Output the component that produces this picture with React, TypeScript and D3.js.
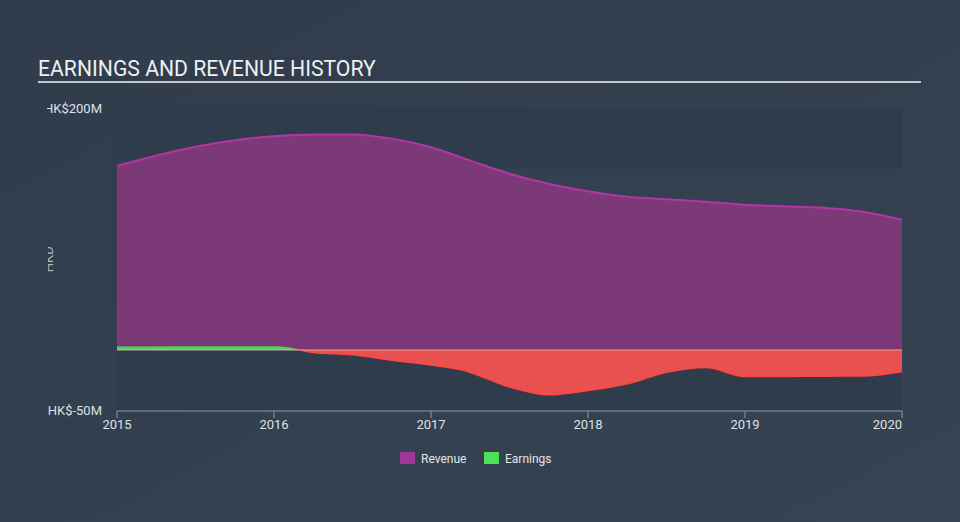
import React from "react";
import * as d3 from "d3";

const revenueDates = [2015.0, 2015.25, 2015.5, 2015.75, 2016.0, 2016.25, 2016.5, 2016.75, 2017.0, 2017.25, 2017.5, 2017.75, 2018.0, 2018.25, 2018.5, 2018.75, 2019.0, 2019.25, 2019.5, 2019.75, 2020.0];
const revenueValues = [152.3, 160.6, 168, 173.4, 176.6, 178, 178.2, 174.7, 167.6, 156.5, 145.7, 137.4, 131.2, 126.7, 124.6, 122.5, 120, 118.8, 117.5, 114.2, 107.6];

const earningsDates = [2015.0, 2015.25, 2015.5, 2015.75, 2016.0, 2016.1, 2016.17, 2016.25, 2016.5, 2016.75, 2017.0, 2017.2, 2017.5, 2017.75, 2018.0, 2018.25, 2018.5, 2018.75, 2019.0, 2019.25, 2019.5, 2019.75, 2020.0];
const earningsValues = [2.8, 2.9, 3.0, 3.0, 3.0, 2.0, 0, -2.0, -4.0, -8.5, -12.5, -16.5, -30.5, -37, -33.5, -28, -18.5, -14.5, -22, -21.8, -21.6, -21.5, -18];

const yearTicks = [2015, 2016, 2017, 2018, 2019, 2020];
const yTickValues = [200, -50];
const yTickLabels = ["HK$200M", "HK$-50M"];

const W = 960;
const H = 522;
const FONT = "Roboto, 'Noto Sans', sans-serif";

export default function App() {
  const x = d3.scaleLinear().domain([2015, 2020]).range([117, 902]);
  const y = d3.scaleLinear().domain([-50, 200]).range([410.5, 108]);

  const rev = revenueDates.map((d, i) => ({ d, v: revenueValues[i] }));
  const earn = earningsDates.map((d, i) => ({ d, v: earningsValues[i] }));

  const revArea = d3.area<{ d: number; v: number }>()
    .x((p) => x(p.d)).y0(y(0)).y1((p) => y(p.v)).curve(d3.curveMonotoneX);
  const revLine = d3.line<{ d: number; v: number }>()
    .x((p) => x(p.d)).y((p) => y(p.v)).curve(d3.curveMonotoneX);
  const earnArea = d3.area<{ d: number; v: number }>()
    .x((p) => x(p.d)).y0(y(0)).y1((p) => y(p.v)).curve(d3.curveMonotoneX);
  const earnLine = d3.line<{ d: number; v: number }>()
    .x((p) => x(p.d)).y((p) => y(p.v)).curve(d3.curveMonotoneX);

  const x0 = x(2015), x1 = x(2020);
  const yTop = y(200), yBot = y(-50), yZero = y(0);

  return (
    <div style={{ position: "absolute", left: 0, top: 0 }}>
      <svg width={W} height={H} style={{ display: "block" }}>
        <defs>
          <linearGradient id="bg" x1="0" y1="0" x2="1" y2="1">
            <stop offset="0" stopColor="#303c4b" />
            <stop offset="1" stopColor="#364353" />
          </linearGradient>
          <clipPath id="above">
            <rect x={x0} y={0} width={x1 - x0} height={yZero} />
          </clipPath>
          <clipPath id="below">
            <rect x={x0} y={yZero} width={x1 - x0} height={H - yZero} />
          </clipPath>
          <clipPath id="labelClip">
            <rect x={47} y={0} width={200} height={H} />
          </clipPath>
          <clipPath id="unitClip">
            <rect x={48} y={0} width={200} height={H} />
          </clipPath>
        </defs>
        <rect x={0} y={0} width={W} height={H} fill="url(#bg)" />

        {/* plot bands */}
        <rect x={x0} y={yTop} width={x1 - x0} height={yBot - yTop} fill="#2f3c4b" />
        <rect x={x0} y={y(150)} width={x1 - x0} height={yZero - y(150)} fill="#334050" />

        {/* title */}
        <text x={38} y={76} fill="#eef0f2" fontFamily={FONT} fontSize={21.2}>EARNINGS AND REVENUE HISTORY</text>
        <line x1={38} x2={921} y1={82} y2={82} stroke="#c5c9ce" strokeWidth={2} />

        {/* revenue */}
        <path d={revArea(rev) || ""} fill="#7b3a77" />
        <path d={revLine(rev) || ""} fill="none" stroke="#b535a6" strokeWidth={2} />

        {/* earnings */}
        <g clipPath="url(#above)">
          <path d={earnArea(earn) || ""} fill="#4fd35b" />
        </g>
        <g clipPath="url(#below)">
          <path d={earnArea(earn) || ""} fill="#e95050" />
          <path d={earnLine(earn) || ""} fill="none" stroke="#ff4545" strokeWidth={1.5} />
        </g>
        <line x1={x0} x2={x1} y1={yZero} y2={yZero} stroke="#f2c8b0" strokeOpacity={0.75} strokeWidth={1} />

        {/* y labels */}
        <g clipPath="url(#labelClip)">
          {yTickValues.map((v, i) => (
            <text key={v} x={102} y={y(v) + 4.5} textAnchor="end" fill="#dfe2e6" fontFamily={FONT} fontSize={13}>{yTickLabels[i]}</text>
          ))}
        </g>
        <g clipPath="url(#unitClip)">
          <text transform={`translate(53,${(yTop + yBot) / 2}) rotate(-90)`} textAnchor="middle" fill="#c9cdd2" fillOpacity={0.85} fontFamily={FONT} fontSize={13}>HKD</text>
        </g>

        {/* x axis */}
        <line x1={x0} x2={x1} y1={411} y2={411} stroke="#8d99a6" strokeWidth={1} />
        {yearTicks.map((t, i) => (
          <g key={t}>
            <line x1={x(t)} x2={x(t)} y1={411} y2={418} stroke="#8d99a6" strokeWidth={1} />
            <text x={x(t)} y={429} textAnchor={i === yearTicks.length - 1 ? "end" : "middle"} fill="#dfe2e6" fontFamily={FONT} fontSize={13}>{t}</text>
          </g>
        ))}

        {/* legend */}
        <rect x={400} y={452} width={15} height={12} fill="#a0359a" />
        <text x={421} y={463} fill="#e4e6e9" fontFamily={FONT} fontSize={12}>Revenue</text>
        <rect x={484} y={452} width={15} height={12} fill="#4fe05a" />
        <text x={505} y={463} fill="#e4e6e9" fontFamily={FONT} fontSize={12}>Earnings</text>
      </svg>
    </div>
  );
}
